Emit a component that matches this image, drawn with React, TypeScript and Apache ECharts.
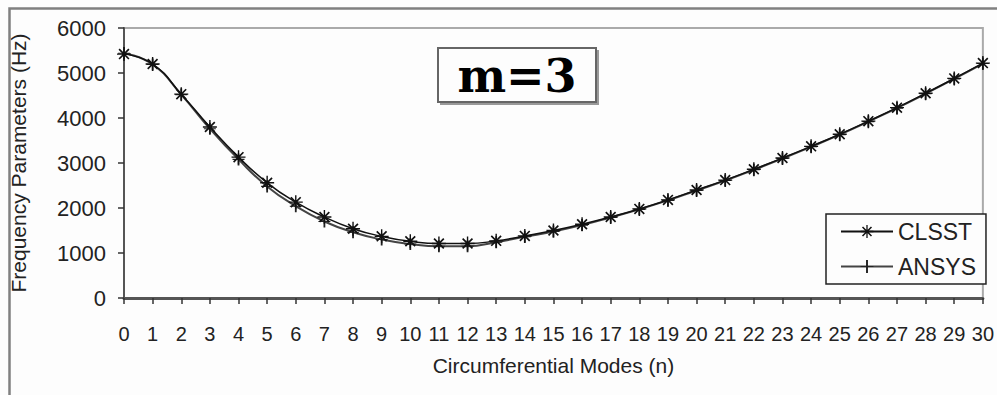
import React, { useEffect, useRef } from "react";
import * as echarts from "echarts";

const modes = [0,1,2,3,4,5,6,7,8,9,10,11,12,13,14,15,16,17,18,19,20,21,22,23,24,25,26,27,28,29,30];
const clsst = [5420,5200,4530,3800,3130,2560,2130,1800,1540,1370,1260,1210,1210,1270,1380,1500,1640,1800,1980,2180,2400,2620,2860,3110,3370,3640,3930,4230,4550,4880,5220];
const ansys = [5440,5190,4520,3760,3080,2480,2040,1700,1460,1300,1200,1150,1150,1240,1360,1480,1620,1790,1970,2170,2390,2610,2850,3100,3360,3630,3920,4220,4540,4870,5210];
const seriesNames = ["CLSST", "ANSYS"];
const yTicks = [0, 1000, 2000, 3000, 4000, 5000, 6000];

const ASTERISK =
  "path://M-1 -10L1 -10L1 10L-1 10Z M-10 -1L10 -1L10 1L-10 1Z M-6.15 -7.85L7.85 6.15L6.15 7.85L-7.85 -6.15Z M6.15 -7.85L7.85 -6.15L-6.15 7.85L-7.85 6.15Z";
const PLUS = "path://M-0.9 -10L0.9 -10L0.9 10L-0.9 10Z M-6 -0.9L6 -0.9L6 0.9L-6 0.9Z";

const SANS = '"Liberation Sans", Arial, sans-serif';

export default function App() {
  const ref = useRef<HTMLDivElement>(null);
  useEffect(() => {
    if (!ref.current) return;
    const chart = echarts.init(ref.current, null, { renderer: "svg" });
    chart.setOption({
      animation: false,
      backgroundColor: "#fdfdfd",
      grid: {
        left: 117,
        top: 28,
        right: 1,
        bottom: 97,
        show: true,
        borderColor: "#aaaaaa",
        borderWidth: 2,
        backgroundColor: "transparent",
      },
      legend: {
        data: seriesNames,
        orient: "vertical",
        left: 826,
        top: 214,
        itemWidth: 52,
        itemHeight: 16,
        itemGap: 12,
        padding: [6, 10, 6, 14],
        borderColor: "#222",
        borderWidth: 1.5,
        backgroundColor: "#fdfdfd",
        textStyle: { fontFamily: SANS, fontSize: 23, color: "#222" },
      },
      xAxis: {
        type: "value",
        min: 0,
        max: 30,
        interval: 1,
        name: "Circumferential Modes (n)",
        nameLocation: "middle",
        nameGap: 57,
        nameTextStyle: { fontFamily: SANS, fontSize: 21, color: "#222" },
        axisLine: { lineStyle: { color: "#555", width: 3 } },
        axisTick: { show: true, length: 6, lineStyle: { color: "#333", width: 1.5 } },
        axisLabel: { fontFamily: SANS, fontSize: 20, color: "#222", margin: 26 },
        splitLine: { show: false },
      },
      yAxis: {
        type: "value",
        min: yTicks[0],
        max: yTicks[yTicks.length - 1],
        interval: 1000,
        name: "Frequency Parameters (Hz)",
        nameLocation: "middle",
        nameGap: 95,
        nameTextStyle: { fontFamily: SANS, fontSize: 21, color: "#222" },
        axisLine: { show: true, lineStyle: { color: "#555", width: 2 } },
        axisTick: { show: true, length: 6, lineStyle: { color: "#333", width: 1.5 } },
        axisLabel: {
          fontFamily: SANS,
          fontSize: 22,
          color: "#222",
          margin: 18,
          formatter: (v: number) => String(v),
        },
        splitLine: { show: false },
      },
      series: [
        {
          name: seriesNames[0],
          type: "line",
          smooth: true,
          data: modes.map((m, i) => [m, clsst[i]]),
          symbol: ASTERISK,
          symbolSize: 14,
          lineStyle: { color: "#111", width: 1.5 },
          itemStyle: { color: "#111" },
          z: 3,
        },
        {
          name: seriesNames[1],
          type: "line",
          smooth: true,
          data: modes.map((m, i) => [m, ansys[i]]),
          symbol: PLUS,
          symbolSize: 12,
          lineStyle: { color: "#444", width: 2 },
          itemStyle: { color: "#222" },
          z: 2,
        },
      ],
      graphic: [
        {
          type: "rect",
          shape: { x: 9.5, y: 8.5, width: 1000, height: 400 },
          style: { fill: "none", stroke: "#808080", lineWidth: 2.5 },
          silent: true,
          z: 0,
        },
        {
          type: "rect",
          shape: { x: 440, y: 50, width: 159, height: 55 },
          style: { fill: "#999", stroke: "none" },
          z: 10,
        },
        {
          type: "rect",
          shape: { x: 438, y: 48, width: 158, height: 54 },
          style: { fill: "#fdfdfd", stroke: "#666", lineWidth: 2 },
          z: 11,
        },
        {
          type: "text",
          x: 517,
          y: 76,
          style: {
            text: "m=3",
            font: 'bold 46px "DejaVu Serif", "Liberation Serif", serif',
            fill: "#000",
            align: "center",
            verticalAlign: "middle",
          },
          z: 12,
        },
      ],
    });
    return () => chart.dispose();
  }, []);
  return (
    <div
      ref={ref}
      style={{ position: "fixed", left: 0, top: 0, width: 997, height: 395 }}
    />
  );
}
